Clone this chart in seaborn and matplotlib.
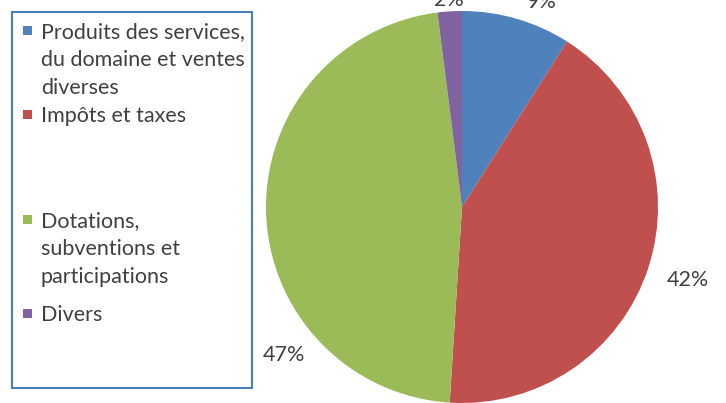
import numpy as np
import matplotlib
matplotlib.use("Agg")
import matplotlib.pyplot as plt
import seaborn as sns
from matplotlib.patches import Rectangle

# data
categories = ["Produits des services,\ndu domaine et ventes\ndiverses",
              "Impôts et taxes",
              "Dotations,\nsubventions et\nparticipations",
              "Divers"]
shares = [9, 42, 47, 2]
pct_labels = ["9%", "42%", "47%", "2%"]
colors = ["#4F81BD", "#C0504D", "#9BBB59", "#8064A2"]

sns.set_theme(style="white")
plt.rcParams['font.family'] = ['Lato', 'DejaVu Sans']

W, H = 726, 403
fig = plt.figure(figsize=(W / 100, H / 100), dpi=100)
ax = fig.add_axes([0, 0, 1, 1])

# pie in pixel coordinates (y measured from bottom)
cx, cy, r = 462, H - 207, 196
wedges, _ = ax.pie(shares, colors=colors, startangle=90, counterclock=False,
                   center=(cx, cy), radius=r,
                   wedgeprops=dict(linewidth=0))
ax.set_xlim(0, W)
ax.set_ylim(0, H)
ax.set_aspect('equal')
ax.axis('off')

# percentage labels (Excel "best fit" placement)
label_shift = [-5, 0, 38, 0]      # degrees added to the wedge middle
label_dist = [1.12, 1.21, 1.18, 1.06]
for w, txt, sh, d in zip(wedges, pct_labels, label_shift, label_dist):
    ang = np.deg2rad((w.theta1 + w.theta2) / 2 + sh)
    ax.text(cx + d * r * np.cos(ang), cy + d * r * np.sin(ang), txt,
            ha='center', va='center', fontsize=15.5, color='#404040')

# legend box drawn by hand to keep Excel's spacing
ax.add_patch(Rectangle((12, H - 388), 240, 376, fill=False,
                       edgecolor='#4A7EBB', linewidth=1.5))
first_line_y = [30, 114, 219, 313]
for lab, col, y in zip(categories, colors, first_line_y):
    ax.add_patch(Rectangle((23, H - y - 4.5), 9, 9, color=col, linewidth=0))
    ax.text(41, H - y + 8, lab, ha='left', va='top', fontsize=15.5,
            color='#404040', linespacing=1.5)

fig.savefig("out.png", dpi=100)
